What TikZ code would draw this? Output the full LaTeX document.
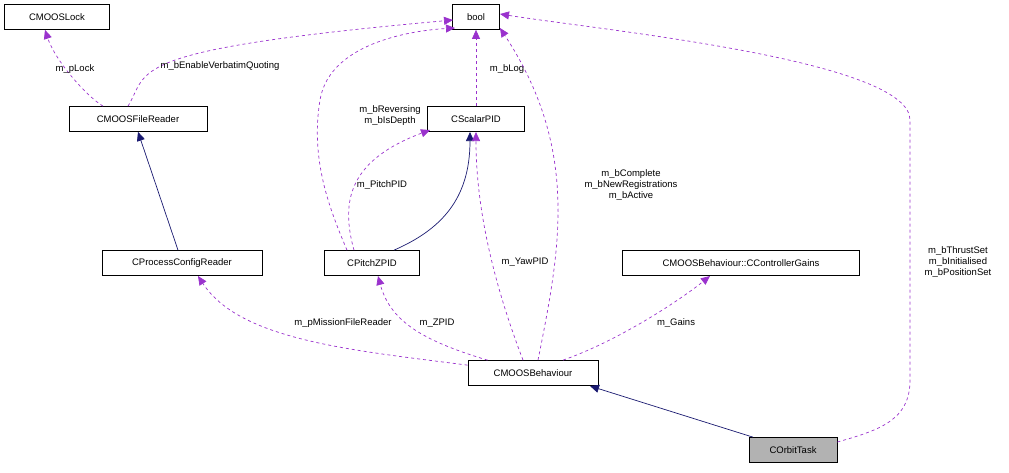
\documentclass[tikz,border=0pt]{standalone}
\usepackage{fontspec}
\setmainfont{Liberation Sans}
\usetikzlibrary{arrows.meta}
\definecolor{orch}{HTML}{9A32CD}
\definecolor{mnb}{HTML}{191970}
\begin{document}
\begin{tikzpicture}[x=1pt,y=-1pt,
  box/.style={draw,line width=0.7pt,minimum height=25pt,inner sep=2pt,font=\fontsize{9.5}{11}\selectfont},
  use/.style={draw=orch,dashed,line width=0.7pt,-{Triangle[fill=orch,length=9pt,width=8pt]}},
  inh/.style={draw=mnb,line width=0.7pt,-{Triangle[fill=mnb,length=9pt,width=8pt]}},
  lab/.style={font=\fontsize{9.5}{11}\selectfont,align=center,inner sep=1pt}]
\useasboundingbox (0,0) rectangle (1009,472);
\node[box,minimum width=105pt] (lock) at (57,17) {CMOOSLock};
\node[box,minimum width=47pt] (bool) at (476,17) {bool};
\node[box,minimum width=138pt] (fr) at (138,119) {CMOOSFileReader};
\node[box,minimum width=97pt] (sp) at (476,119) {CScalarPID};
\node[box,minimum width=160pt] (pcr) at (182,263) {CProcessConfigReader};
\node[box,minimum width=95pt] (pz) at (372,263) {CPitchZPID};
\node[box,minimum width=237pt] (cg) at (741,263) {CMOOSBehaviour::CControllerGains};
\node[box,minimum width=130pt] (mb) at (533,373) {CMOOSBehaviour};
\node[box,minimum width=88pt,fill=black!30] (ot) at (793,450) {COrbitTask};

\draw[use] (fr.north) ++(-35,0) .. controls (85,95) and (55,60) .. (lock.south -| 45,0);
\node[lab] at (75,69) {m\_pLock};
\draw[use] (fr.north) ++(-10,0) .. controls (150,70) and (120,50) .. (453,20);
\node[lab] at (220,66) {m\_bEnableVerbatimQuoting};
\draw[use] (sp.north) -- (bool.south);
\node[lab] at (507,69) {m\_bLog};
\draw[use] (pz.north) ++(-25,0) .. controls (330,210) and (310,160) .. (320,100) .. controls (330,40) and (420,30) .. (455,28);
\node[lab] at (390,116) {m\_bReversing\\m\_bIsDepth};
\draw[use] (pz.north) ++(-18,0) .. controls (340,200) and (350,160) .. (430,130);
\node[lab] at (382,185) {m\_PitchPID};
\draw[inh] (pz.north) ++(22,0) .. controls (440,230) and (470,200) .. (470,132);
\draw[inh] (pcr.north) ++(-4,0) -- (fr.south);
\draw[use] (mb.north west) ++(0,5) .. controls (350,350) and (240,340) .. (198,276);
\node[lab] at (343,323) {m\_pMissionFileReader};
\draw[use] (mb.north west) ++(20,0) .. controls (420,340) and (390,320) .. (378,276);
\node[lab] at (437,323) {m\_ZPID};
\draw[use] (mb.north) ++(-10,0) .. controls (500,300) and (476,220) .. (476,132);
\node[lab] at (525,262) {m\_YawPID};
\draw[use] (mb.north) ++(5,0) .. controls (560,250) and (580,150) .. (500,28);
\node[lab] at (631,185) {m\_bComplete\\m\_bNewRegistrations\\m\_bActive};
\draw[use] (mb.north) ++(30,0) .. controls (620,340) and (680,300) .. (710,276);
\node[lab] at (676,323) {m\_Gains};
\draw[inh] (ot.north) ++(-40,0) -- (590,386);
\draw[use] (ot.east) ++(0,-8) .. controls (880,430) and (910,420) .. (910,380) -- (910,120) .. controls (910,60) and (600,30) .. (500,14);
\node[lab] at (958,262) {m\_bThrustSet\\m\_bInitialised\\m\_bPositionSet};
\end{tikzpicture}
\end{document}
